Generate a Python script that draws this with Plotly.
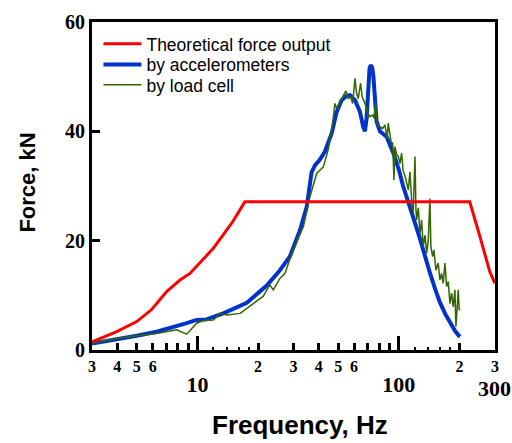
import math
import plotly.graph_objects as go

# ---- data ----
theo_freq = [3.0, 3.98, 5.0, 5.93, 7.04, 8.2, 9.19, 10.3, 12.0, 13.4, 15.0, 17.2, 225, 253, 283, 300]
theo_force = [1.5, 3.35, 5.2, 7.4, 10.7, 12.8, 14.0, 15.9, 18.6, 21.0, 23.5, 27.1, 27.1, 20.7, 14.3, 12.2]

acc_freq = [3.0, 3.98, 5.0, 6.28, 7.9, 8.85, 9.92, 11.1, 13.45, 17.6, 22.1, 25.7, 28.8, 32.3, 34.9,
            36.9, 38.4, 40.5, 43.0, 46.4, 49.1, 52.0, 55.0, 57.2, 60.6, 64.1, 66.6, 67.9, 69.2, 70.5,
            71.6, 72.7, 73.8, 74.7, 76.1, 77.6, 80.6, 87, 94, 100, 105, 111, 118, 127, 135, 143,
            152, 160, 170, 180, 190, 201]
acc_force = [1.2, 1.95, 2.6, 3.35, 4.3, 4.9, 5.5, 5.6, 6.7, 8.65, 11.8, 14.6, 17.1, 21.9, 26.2,
             32.5, 33.8, 34.8, 36.3, 39.6, 43.5, 45.7, 46.5, 46.6, 45.7, 43.6, 40.8, 40.0, 42.4, 49.1,
             51.6, 52.1, 51.6, 50.3, 46.1, 41.8, 40.0, 39.0, 36.0, 33.0, 30.0, 27.0, 24.2, 20.5, 17.0, 14.0,
             11.0, 8.7, 6.6, 4.9, 3.5, 2.4]

cell_freq = [3.0, 3.98, 5.0, 6.28, 7.9, 8.85, 9.92, 10.7, 12.0, 12.95, 14.0, 16.3, 18.95, 21.2, 22.9,
             23.8, 25.7, 27.2, 29.9, 33.6, 36.2, 39.1, 42.2, 44.6, 46.4, 47.3, 48.2, 49.1, 51.0, 53.0,
             54.6, 56.1, 57.7, 59.0, 60.6, 61.7, 62.9, 64.6, 65.8, 67.4, 69.2, 70.5, 71.3, 72.5, 74.2,
             75.3, 76.7, 78.2, 80.6, 83.1, 85.3, 87.6, 88.6, 90.4, 92.1, 93.2, 94.6, 95.7, 97.6, 99.4,
             101.3, 103.3, 105, 108, 111.4, 113.6, 115.8, 117.9, 120.3, 121.7, 122.6, 125, 127.3, 129.8,
             132.2, 135, 137.5, 140, 142.7, 144.3, 147.2, 149.4, 152.9, 156.9, 160, 163, 166.2, 169.4,
             172.8, 176, 179.4, 182.9, 186.3, 189.9, 192.1, 195, 197.2, 199.5, 201]
cell_force = [1.3, 2.1, 2.6, 3.0, 3.7, 2.9, 4.9, 5.4, 5.5, 6.7, 6.4, 6.7, 8.5, 9.8, 11.9,
              11.0, 13.1, 14.0, 18.3, 22.6, 28.0, 32.3, 33.5, 36.6, 40.2, 42.4, 45.1, 44.2, 45.4, 46.6,
              47.4, 46.0, 46.3, 45.1, 49.7, 47.0, 46.0, 48.8, 46.3, 45.4, 44.2, 42.4, 43.0, 42.7, 43.0,
              42.4, 45.1, 41.2, 40.9, 40.5, 41.2, 38.7, 41.5, 39.3, 37.5, 38.0, 31.1, 37.2, 35.7, 35.4,
              34.1, 36.0, 32.9, 31.5, 29.3, 32.6, 27.4, 25.0, 35.4, 25.6, 23.8, 26.0, 21.3, 23.8,
              18.9, 21.0, 17.7, 20.0, 27.7, 18.9, 17.1, 18.3, 14.6, 15.9, 12.8, 14.0, 12.2, 15.9,
              11.6, 12.5, 8.5, 10.4, 7.9, 11.0, 4.3, 7.9, 11.0, 7.3, 7.6]

series_names = ["Theoretical force output", "by accelerometers", "by load cell"]

x_small_ticks = [3, 4, 5, 6, 7, 8, 9, 20, 30, 40, 50, 60, 70, 80, 90, 200, 300]
x_small_text = ["3", "4", "5", "6", "", "", "", "2", "3", "4", "5", "6", "", "", "", "2", "3"]
x_dot_ticks = [12, 14, 16, 18, 120, 140, 160, 180]
x_big_ticks = [10, 100, 300]
x_big_text = ["10", "100", ""]
x_end_value = 300
x_end_label = "300"
y_ticks = [0, 20, 40, 60]

SANS = "Liberation Sans, Arial, sans-serif"
SERIF = "Liberation Serif, Times New Roman, serif"

fig = go.Figure()
fig.add_trace(go.Scatter(x=theo_freq, y=theo_force, mode="lines", name=series_names[0],
                         line=dict(color="#ff0000", width=3), xaxis="x2", legend="legend",
                         showlegend=True))
fig.add_trace(go.Scatter(x=acc_freq, y=acc_force, mode="lines", name=series_names[1],
                         line=dict(color="#0033cc", width=4), legend="legend2", showlegend=True))
fig.add_trace(go.Scatter(x=cell_freq, y=cell_force, mode="lines", name=series_names[2],
                         line=dict(color="#336600", width=1.5), legend="legend3", showlegend=True))

xrange = [math.log10(2.998), math.log10(300.3)]

leg_common = dict(xanchor="left", yanchor="middle", bgcolor="rgba(0,0,0,0)", itemwidth=38,
                  font=dict(family=SANS, size=17.5, color="black"), borderwidth=0)

fig.update_layout(
    width=512, height=443, showlegend=True,
    margin=dict(l=92, r=17, t=22, b=93, autoexpand=False),
    paper_bgcolor="white", plot_bgcolor="white",
    xaxis=dict(type="log", range=xrange, tickmode="array", tickvals=x_small_ticks, ticktext=x_small_text,
               ticks="inside", ticklen=7, tickwidth=2.5, tickcolor="black",
               tickfont=dict(family=SERIF, size=16, color="black", weight="bold"),
               showline=True, linewidth=3, linecolor="black", mirror=True, showgrid=False, zeroline=False,
               minor=dict(tickmode="array", tickvals=x_dot_ticks, ticks="inside", ticklen=3, tickwidth=2,
                          tickcolor="black", showgrid=False)),
    xaxis2=dict(type="log", range=xrange, overlaying="x", anchor="y", side="bottom",
                tickmode="array", tickvals=x_big_ticks, ticktext=x_big_text,
                ticks="inside", ticklen=14, tickwidth=2.5, tickcolor="black", ticklabelstandoff=19,
                tickfont=dict(family=SERIF, size=22, color="black", weight="bold"),
                showline=False, showgrid=False, zeroline=False),
    yaxis=dict(range=[0, 60], tickmode="array", tickvals=y_ticks, ticks="inside", ticklen=8,
               tickwidth=2.5, tickcolor="black",
               tickfont=dict(family=SERIF, size=20, color="black", weight="bold"),
               showline=True, linewidth=3, linecolor="black", mirror=True, showgrid=False, zeroline=False),
    legend=dict(x=0.016, y=0.933, **leg_common),
    legend2=dict(x=0.016, y=0.870, **leg_common),
    legend3=dict(x=0.016, y=0.808, **leg_common),
    annotations=[
        dict(text="<b>" + x_end_label + "</b>", xref="x", yref="paper", x=math.log10(x_end_value),
             y=-0.116, xanchor="center", yanchor="middle", showarrow=False,
             font=dict(family=SERIF, size=22, color="black")),
        dict(text="<b>Frequency, Hz</b>", xref="paper", yref="paper", x=0.517, y=-0.229,
             xanchor="center", yanchor="middle", showarrow=False,
             font=dict(family=SANS, size=26, color="black")),
        dict(text="<b>Force, kN</b>", xref="paper", yref="paper", x=-0.16, y=0.509, textangle=-90,
             xanchor="center", yanchor="middle", showarrow=False,
             font=dict(family=SANS, size=22, color="black")),
    ],
)

fig.write_html("out.html")
